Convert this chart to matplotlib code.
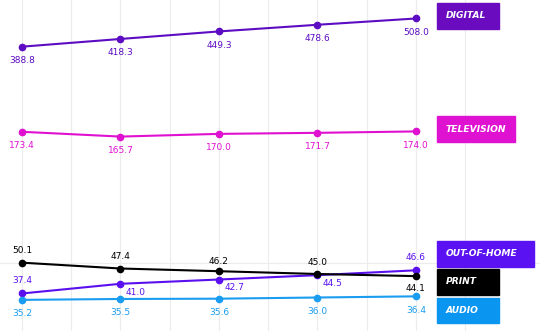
import matplotlib
matplotlib.use('Agg')
from matplotlib import pyplot as plt
from matplotlib.patches import Rectangle
import numpy as np

# values
steps = [0, 1, 2, 3, 4]
digital = [388.8, 418.3, 449.3, 478.6, 508.0]
television = [173.4, 165.7, 170.0, 171.7, 174.0]
out_of_home = [37.4, 41.0, 42.7, 44.5, 46.6]
print_media = [50.1, 47.4, 46.2, 45.0, 44.1]
audio = [35.2, 35.5, 35.6, 36.0, 36.4]
names = ['DIGITAL', 'TELEVISION', 'OUT-OF-HOME', 'PRINT', 'AUDIO']

W, H = 540, 331
fig = plt.figure(figsize=(W / 100, H / 100), dpi=100)
ax = fig.add_axes([0, 0, 1, 1])
ax.set_yscale('log')
ax.set_xlim(-0.223, 5.26)
ax.set_ylim(26.2, 605.4)
for s in ax.spines.values():
    s.set_visible(False)
ax.set_xticks(np.arange(0, 5, 0.5))
ax.set_yticks([50])
ax.yaxis.set_minor_locator(matplotlib.ticker.NullLocator())
ax.tick_params(length=0, labelbottom=False, labelleft=False)
ax.grid(True, color='#ececec', lw=0.8)
ax.set_axisbelow(True)

font = 'DejaVu Sans'

series = [
    (digital, '#5c0cc2', [(0, -10)] * 5),
    (television, '#e010d0', [(0, -10)] * 5),
    (out_of_home, '#5a10ee', [(0, 9), (11, -6), (11, -6), (11, -6), (0, 9)]),
    (print_media, 'black', [(0, 9), (0, 9), (0, 7), (0, 8), (0, -9)]),
    (audio, '#1a9cf0', [(0, -10)] * 5),
]

for vals, col, offs in series:
    ax.plot(steps, vals, color=col, lw=1.5, marker='o', ms=4.5, zorder=3)
    for x, v, (dx, dy) in zip(steps, vals, offs):
        ax.annotate(f'{v:.1f}', (x, v), xytext=(dx, dy), textcoords='offset points',
                    ha='center', va='center', color=col, fontsize=6.5,
                    family=font)

# name boxes on the right (pixel positions: left, top, right, bottom)
boxes = [
    (437, 3, 499, 29, '#6a0bc0'),
    (437, 116, 515, 142, '#e012d2'),
    (437, 241, 534, 267, '#5a12f2'),
    (437, 269, 499, 295, 'black'),
    (437, 298, 499, 323, '#0a96f0'),
]
for name, (l, t, r, b, col) in zip(names, boxes):
    fig.patches.append(Rectangle((l / W, 1 - b / H), (r - l) / W, (b - t) / H,
                                 transform=fig.transFigure, color=col, zorder=5))
    fig.text((l + 9) / W, 1 - (t + b) / 2 / H, name, color='white', fontsize=6.6,
             family=font, fontweight='bold', style='italic', va='center', ha='left',
             zorder=6)

plt.savefig('out.png', dpi=100)
